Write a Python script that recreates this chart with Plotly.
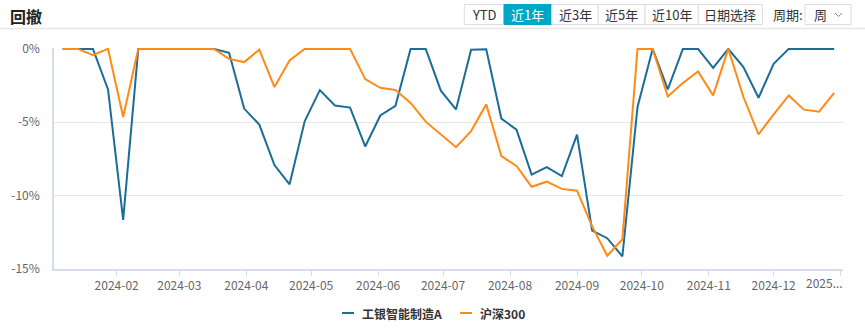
import plotly.graph_objects as go
import pandas as pd

# ---- data ----
dates = pd.date_range("2024-01-07", periods=52, freq="7D").strftime("%Y-%m-%d").tolist()
fund_name = "工银智能制造A"
index_name = "沪深300"
fund_dd = [0, 0, 0, -2.76, -11.65, 0, 0, 0, 0, 0,
           0, -0.27, -4.07, -5.16, -7.92, -9.23, -4.93, -2.81, -3.86, -4.0,
           -6.65, -4.54, -3.88, 0, 0, -2.85, -4.13, -0.06, -0.02, -4.75,
           -5.5, -8.57, -8.06, -8.67, -5.84, -12.38, -12.9, -14.14, -3.96, 0,
           -2.76, 0, 0, -1.29, 0, -1.24, -3.33, -1.02, 0, 0,
           0, 0]
index_dd = [0, 0, -0.43, 0, -4.64, 0, 0, 0, 0, 0,
            0, -0.68, -0.9, -0.05, -2.6, -0.79, 0, 0, 0, 0,
            -2.06, -2.65, -2.8, -3.68, -4.96, -5.82, -6.7, -5.6, -3.78, -7.3,
            -7.98, -9.4, -9.05, -9.54, -9.66, -12.1, -14.1, -12.97, 0, 0,
            -3.24, -2.33, -1.54, -3.17, 0, -3.28, -5.82, -4.46, -3.17, -4.14,
            -4.28, -2.99]
x_tickvals = ["2024-02-01", "2024-03-01", "2024-04-01", "2024-05-01", "2024-06-01",
              "2024-07-01", "2024-08-01", "2024-09-01", "2024-10-01", "2024-11-01",
              "2024-12-01", "2025-01-01"]
x_ticktext = ["2024-02", "2024-03", "2024-04", "2024-05", "2024-06", "2024-07",
              "2024-08", "2024-09", "2024-10", "2024-11", "2024-12", ""]
last_tick_label = "2025..."
y_tickvals = [0, -5, -10, -15]
y_ticktext = ["0%", "-5%", "-10%", "-15%"]
title_text = "回撤"
buttons = ["YTD", "近1年", "近3年", "近5年", "近10年", "日期选择"]
period_label = "周期:"
period_value = "周"

# ---- layout geometry ----
W, H = 865, 330
L, R, T, B = 54, 22, 48, 61
PW, PH = W - L - R, H - T - B

def px(x):
    return (x - L) / PW

def py(y):
    return (H - B - y) / PH

BLUE = "#1a6d98"
ORANGE = "#ff8a14"
TEAL = "#00a7c4"
FONT = "Noto Sans CJK SC"

fig = go.Figure()
fig.add_trace(go.Scatter(x=dates, y=fund_dd, mode="lines", name=fund_name,
                         line=dict(color=BLUE, width=2)))
fig.add_trace(go.Scatter(x=dates, y=index_dd, mode="lines", name=index_name,
                         line=dict(color=ORANGE, width=2)))

shapes = []
annotations = []

# header
annotations.append(dict(text="<b>" + title_text + "</b>", x=px(8), y=py(16), xref="paper", yref="paper",
                        xanchor="left", yanchor="middle", showarrow=False,
                        font=dict(size=16, color="#222", family=FONT)))
shapes.append(dict(type="line", xref="paper", yref="paper", x0=px(0), x1=px(865), y0=py(28.5), y1=py(28.5),
                   line=dict(color="#e6e6e6", width=1.5)))

btn_edges = [464.3, 504, 551.7, 598.3, 645, 698.3, 762.3]
btn_top, btn_bot = 4.5, 24.5
for i, label in enumerate(buttons):
    x0, x1 = btn_edges[i], btn_edges[i + 1]
    sel = (label == "近1年")
    shapes.append(dict(type="rect", xref="paper", yref="paper", x0=px(x0), x1=px(x1), y0=py(btn_bot), y1=py(btn_top),
                       line=dict(color=TEAL if sel else "#dcdcdc", width=1),
                       fillcolor=TEAL if sel else "white"))
    annotations.append(dict(text=label, x=px((x0 + x1) / 2), y=py((btn_top + btn_bot) / 2), xref="paper", yref="paper",
                            xanchor="center", yanchor="middle", showarrow=False,
                            font=dict(size=13, color="white" if sel else "#333", family=FONT)))
annotations.append(dict(text=period_label, x=px(771), y=py(14.5), xref="paper", yref="paper",
                        xanchor="left", yanchor="middle", showarrow=False,
                        font=dict(size=13, color="#333", family=FONT)))
shapes.append(dict(type="rect", xref="paper", yref="paper", x0=px(805), x1=px(851), y0=py(btn_bot), y1=py(btn_top),
                   line=dict(color="#dcdcdc", width=1), fillcolor="white"))
annotations.append(dict(text=period_value, x=px(812), y=py(14.5), xref="paper", yref="paper",
                        xanchor="left", yanchor="middle", showarrow=False,
                        font=dict(size=13, color="#333", family=FONT)))
# chevron
shapes.append(dict(type="path", xref="paper", yref="paper",
                   path=f"M {px(835)} {py(13)} L {px(838.5)} {py(16.5)} L {px(842)} {py(13)}",
                   line=dict(color="#888", width=1)))

# truncated last x tick label
annotations.append(dict(text=last_tick_label, x=px(824), y=py(282), xref="paper", yref="paper",
                        xanchor="center", yanchor="middle", showarrow=False,
                        font=dict(size=12, color="#666", family=FONT)))

# legend (manual)
leg_y = 313
for (x0, color, name) in [(342, BLUE, fund_name), (460, ORANGE, index_name)]:
    shapes.append(dict(type="line", xref="paper", yref="paper", x0=px(x0), x1=px(x0 + 12),
                       y0=py(leg_y), y1=py(leg_y), line=dict(color=color, width=2)))
    annotations.append(dict(text="<b>" + name + "</b>", x=px(x0 + 18), y=py(leg_y), xref="paper", yref="paper",
                            xanchor="left", yanchor="middle", showarrow=False,
                            font=dict(size=12, color="#333", family=FONT)))

fig.update_layout(
    width=W, height=H,
    margin=dict(l=L, r=R, t=T, b=B),
    paper_bgcolor="white", plot_bgcolor="white",
    showlegend=False,
    font=dict(family=FONT, color="#666", size=12),
    shapes=shapes, annotations=annotations,
    xaxis=dict(type="date", range=["2024-01-03", "2025-01-02 02:00"],
               tickvals=x_tickvals, ticktext=x_ticktext, automargin=False,
               showgrid=False, showline=True, linecolor="#d5dcec", linewidth=1.5,
               ticks="outside", ticklen=5, tickcolor="#d5dcec",
               tickfont=dict(size=12, color="#666"), zeroline=False, fixedrange=True),
    yaxis=dict(range=[-15, 0.06], tickvals=y_tickvals, ticktext=y_ticktext, automargin=False,
               showgrid=True, gridcolor="#e6e6e6", gridwidth=1,
               showline=True, linecolor="#d5dcec", linewidth=1.5,
               ticks="", ticklabelstandoff=10,
               tickfont=dict(size=12, color="#666"), zeroline=False, fixedrange=True),
)

fig.write_html("out.html")
